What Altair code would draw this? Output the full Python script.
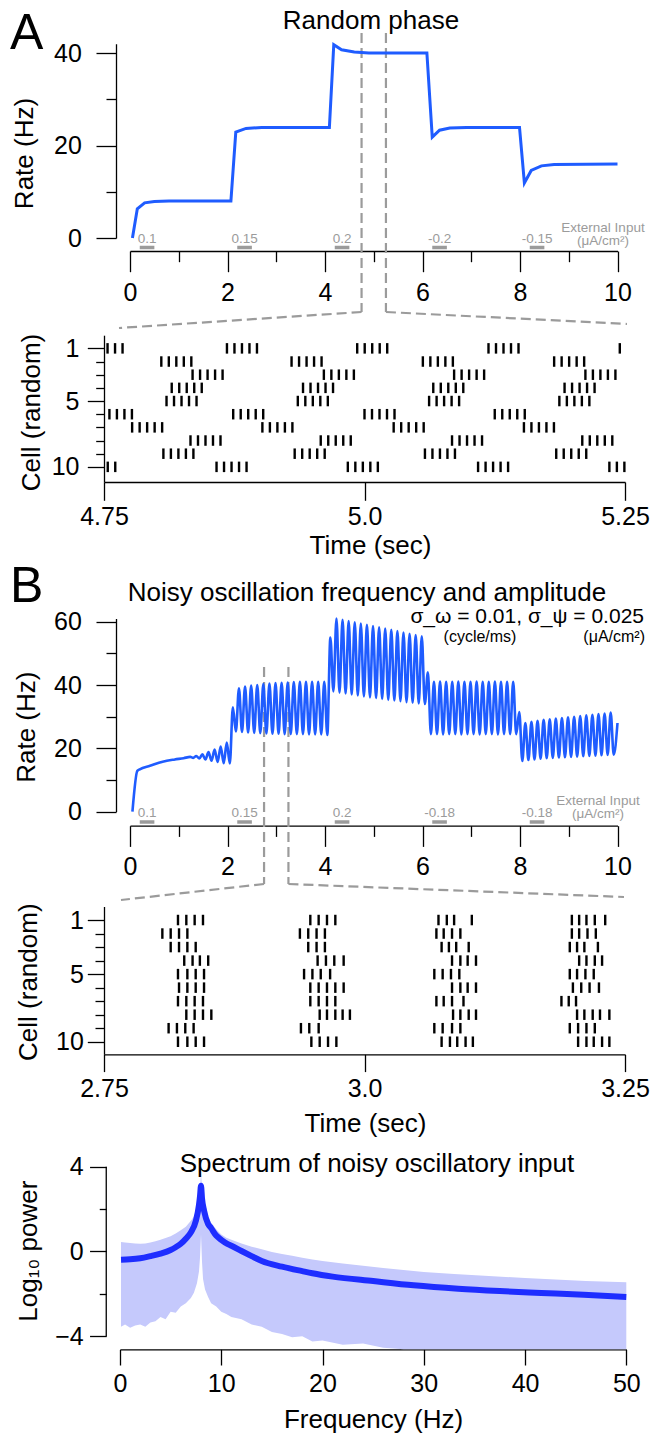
import altair as alt
import pandas as pd

W, H = 652, 1435
FONT = "Liberation Sans"
RATE_BLUE = "#1f5cff"
SPEC_BLUE = "#1e2dff"
BAND = "#c5c9fc"
GRAY = "#9b9b9b"
DASH = [10, 5]

# ---------------- data: panel A (random phase) ----------------
RATE_A_T = [0.05, 0.15, 0.3, 0.5, 0.8, 2.07, 2.17, 2.38, 2.7, 4.09, 4.18, 4.34, 4.6, 4.9,
            6.09, 6.2, 6.35, 6.56, 6.9, 7.99, 8.09, 8.23, 8.44, 8.7, 10.0]
RATE_A_R = [0, 6.3, 7.6, 7.9, 8.0, 8.0, 22.9, 23.7, 23.9, 23.9, 41.8, 40.7, 40.2, 40.0,
            40.0, 21.8, 23.3, 23.8, 23.9, 23.9, 11.9, 14.6, 15.6, 15.9, 16.0]

INPUT_START = [0.2, 2.2, 4.2, 6.2, 8.2]
INPUT_END = [0.5, 2.5, 4.5, 6.5, 8.5]
INPUT_A_LABELS = ["0.1", "0.15", "0.2", "-0.2", "-0.15"]
INPUT_B_LABELS = ["0.1", "0.15", "0.2", "-0.18", "-0.18"]

RATE_X_MAJOR = [0, 2, 4, 6, 8, 10]
RATE_X_LABELS = ["0", "2", "4", "6", "8", "10"]
RATE_X_MINOR = [1, 3, 5, 7, 9]
RATE_A_Y_MAJOR = [0, 20, 40]
RATE_A_Y_LABELS = ["0", "20", "40"]
RATE_A_Y_MINOR = [10, 30]
ZOOM_A = [4.75, 5.25]

# raster A: burst onsets (s) per cell, and spike offsets inside a burst
RASTER_A_ONSETS = [
    [4.739, 4.868, 4.993, 5.119, 5.245],
    [4.805, 4.930, 5.056, 5.182],
    [4.835, 4.961, 5.086, 5.212],
    [4.815, 4.941, 5.066, 5.192],
    [4.810, 4.936, 5.062, 5.187],
    [4.748, 4.874, 5.000, 5.125],
    [4.777, 4.902, 5.028, 5.153],
    [4.833, 4.958, 5.084, 5.209],
    [4.807, 4.933, 5.058, 5.184],
    [4.732, 4.858, 4.984, 5.109, 5.235],
]
RASTER_A_BURST_OFFSETS = [0.0, 0.0072, 0.0144, 0.0216, 0.0288]
RASTER_A_X = [4.75, 5.0, 5.25]
RASTER_A_XLABELS = ["4.75", "5.0", "5.25"]

CELL_MAJOR = [1, 5, 10]
CELL_LABELS = ["1", "5", "10"]
CELL_MINOR = [2, 3, 4, 6, 7, 8, 9]

# ---------------- data: panel B (noisy oscillation) ----------------
RATE_B_RISE_T = [0.05, 0.15, 0.2, 0.41, 0.67, 0.92, 1.1]
RATE_B_RISE_R = [0, 12.9, 13.4, 14.5, 15.8, 16.5, 16.9]
OSC_FIRST_PEAK_T = 1.235   # first oscillation peak
OSC_PERIOD = 0.125         # 8 Hz cycle
RATE_B_PEAKS = [
    17.3, 17.6, 18.1, 18.8, 19.6, 20.6, 21.8,
    33.0, 39.0, 39.5, 39.8, 40.0, 40.3, 40.5, 40.6, 40.7, 40.8, 40.9, 41.0, 41.0, 41.0, 41.0, 41.0,
    55.0, 61.0, 60.6, 60.2, 59.8, 59.4, 59.0, 58.6, 58.2, 57.8, 57.4, 57.0, 56.6, 56.2, 55.8, 55.4,
    44.0, 41.0, 41.1, 41.0, 41.0, 41.1, 41.0, 41.0, 41.1, 41.0, 41.0, 41.1, 41.0, 41.0, 41.0, 31.5,
    28.0, 28.4, 28.7, 29.0, 29.2, 29.4, 29.6, 29.8, 30.0, 30.2, 30.4, 30.6, 30.8, 31.0, 31.3,
]
RATE_B_TROUGHS = [
    17.0, 16.8, 16.5, 16.1, 15.7, 15.3, 15.2,
    25.3, 25.2, 25.0, 24.9, 24.8, 24.7, 24.6, 24.6, 24.5, 24.5, 24.5, 24.5, 24.4, 24.4, 24.4, 24.2,
    38.0, 37.6, 37.3, 37.0, 36.7, 36.4, 36.1, 35.9, 35.6, 35.3, 35.1, 34.9, 34.6, 34.4, 34.2, 34.0,
    24.5, 24.5, 24.4, 24.5, 24.5, 24.4, 24.5, 24.5, 24.4, 24.5, 24.5, 24.4, 24.5, 24.5, 24.5, 16.0,
    16.3, 16.5, 16.7, 16.9, 17.0, 17.1, 17.2, 17.3, 17.4, 17.5, 17.6, 17.7, 17.8, 17.9, 18.0,
]
RATE_B_END_T = 10.0
RATE_B_END_R = 28.0

RATE_B_Y_MAJOR = [0, 20, 40, 60]
RATE_B_Y_LABELS = ["0", "20", "40", "60"]
RATE_B_Y_MINOR = [10, 30, 50]
ZOOM_B = [2.75, 3.25]

RASTER_B_SPIKES = [
    [2.821, 2.829, 2.837, 2.845, 2.948, 2.956, 2.964, 2.972, 3.071, 3.079, 3.086, 3.103, 3.199, 3.206, 3.213, 3.221, 3.231],
    [2.806, 2.814, 2.822, 2.830, 2.938, 2.946, 2.954, 2.962, 3.069, 3.076, 3.084, 3.092, 3.199, 3.206, 3.214, 3.222],
    [2.814, 2.822, 2.830, 2.838, 2.946, 2.954, 2.962, 3.074, 3.081, 3.088, 3.100, 3.197, 3.204, 3.211, 3.224],
    [2.827, 2.835, 2.842, 2.850, 2.955, 2.963, 2.971, 2.980, 3.084, 3.092, 3.099, 3.107, 3.206, 3.213, 3.221, 3.228],
    [2.821, 2.830, 2.838, 2.846, 2.942, 2.950, 2.958, 2.967, 3.067, 3.075, 3.083, 3.091, 3.197, 3.204, 3.212, 3.220],
    [2.822, 2.830, 2.838, 2.846, 2.948, 2.956, 2.964, 2.972, 2.980, 3.084, 3.092, 3.099, 3.107, 3.200, 3.208, 3.216, 3.225],
    [2.821, 2.829, 2.837, 2.845, 2.948, 2.956, 2.964, 2.972, 3.069, 3.076, 3.084, 3.095, 3.189, 3.196, 3.203],
    [2.829, 2.837, 2.845, 2.853, 2.957, 2.964, 2.972, 2.979, 2.986, 3.085, 3.092, 3.100, 3.107, 3.204, 3.211, 3.219, 3.226, 3.235],
    [2.812, 2.820, 2.828, 2.836, 2.939, 2.947, 2.956, 3.067, 3.075, 3.084, 3.092, 3.197, 3.205, 3.213, 3.221],
    [2.821, 2.830, 2.838, 2.846, 2.949, 2.957, 2.965, 2.973, 3.074, 3.082, 3.089, 3.097, 3.104, 3.205, 3.213, 3.220, 3.228, 3.235],
]
RASTER_B_X = [2.75, 3.0, 3.25]
RASTER_B_XLABELS = ["2.75", "3.0", "3.25"]

# ---------------- data: spectrum ----------------
SPEC_F = [0.1, 1, 2, 3, 4, 5, 5.5, 6, 6.5, 7, 7.5, 7.8, 7.9, 8.0, 8.1, 8.3, 8.7, 9.0, 9.5, 10,
          10.6, 11, 12, 13, 14, 16, 18, 19, 21, 25, 29, 33.4, 37.5, 41.6, 45.8, 50]
SPEC_MEAN = [-0.39, -0.37, -0.32, -0.22, -0.1, 0.07, 0.2, 0.36, 0.6, 0.9, 1.46, 2.2, 2.6, 3.1,
             2.5, 1.93, 1.3, 1.1, 0.75, 0.55, 0.36, 0.27, 0.02, -0.22, -0.45, -0.72, -0.93, -1.03,
             -1.19, -1.4, -1.6, -1.76, -1.87, -1.96, -2.05, -2.15]
BAND_F = [0.1, 0.5, 1, 1.5, 2, 2.5, 3, 3.5, 4, 4.5, 5, 5.5, 6, 6.5, 7, 7.3, 7.6, 7.8, 7.9, 8.0,
          8.1, 8.2, 8.4, 8.7, 9, 9.5, 10, 10.5, 11, 12, 13, 14, 15, 16, 17, 18, 19, 20, 22, 24,
          26, 28, 30, 33, 36, 40, 43, 46, 50]
BAND_HI = [0.44, 0.42, 0.40, 0.38, 0.36, 0.37, 0.42, 0.48, 0.55, 0.63, 0.72, 0.85, 1.0, 1.17,
           1.45, 1.65, 2.0, 2.4, 2.9, 3.7, 3.0, 2.6, 2.1, 1.6, 1.35, 1.05, 0.8, 0.65, 0.55, 0.38,
           0.22, 0.1, -0.03, -0.12, -0.2, -0.3, -0.38, -0.45, -0.57, -0.68, -0.78, -0.88, -0.97,
           -1.06, -1.15, -1.25, -1.32, -1.39, -1.45]
BAND_LO = [-3.55, -3.45, -3.6, -3.5, -3.45, -3.55, -3.35, -3.3, -3.1, -3.2, -2.85, -2.9, -2.6,
           -2.45, -2.2, -1.95, -1.5, -0.95, -0.3, 0.8, -0.5, -1.3, -1.8, -2.15, -2.45, -2.6,
           -2.85, -2.95, -3.1, -3.2, -3.45, -3.55, -3.8, -3.9, -4.05, -4.0, -4.25, -4.2, -4.4,
           -4.35, -4.55, -4.62, -4.62, -4.62, -4.62, -4.62, -4.62, -4.62, -4.62]
SPEC_X = [0, 10, 20, 30, 40, 50]
SPEC_XLABELS = ["0", "10", "20", "30", "40", "50"]
SPEC_Y_MAJOR = [-4, 0, 4]
SPEC_Y_LABELS = ["\u22124", "0", "4"]
SPEC_Y_MINOR = [-2, 2]


# ---------------- helpers ----------------
def label_expr(values, labels):
    expr = "''"
    for v, l in reversed(list(zip(values, labels))):
        expr = f"datum.value == {v} ? '{l}' : {expr}"
    return expr


def common_axis(**kw):
    base = dict(grid=False, domainColor="black", domainWidth=1.3, tickColor="black",
                tickWidth=1.3, labelFont=FONT, labelFontSize=25, labelColor="black",
                labelFlush=False, labelOverlap=False)
    base.update(kw)
    return alt.Axis(**base)


def major_x(axis_y, values, labels, tick, pad, title=None, title_x=0, title_y=0):
    kw = dict(orient="bottom", offset=axis_y - H, values=values, tickSize=tick,
              labelPadding=pad, labelExpr=label_expr(values, labels))
    if title:
        kw.update(title=title, titleFont=FONT, titleFontSize=26, titleFontWeight="normal",
                  titleColor="black", titleX=title_x, titleY=title_y - axis_y,
                  titleAlign="center", titleBaseline="alphabetic", titleAngle=0)
    else:
        kw["title"] = None
    return common_axis(**kw)


def minor_x(axis_y, values, tick):
    return common_axis(orient="bottom", offset=axis_y - H, values=values, tickSize=tick,
                       labels=False, domain=False, title=None)


def major_y(axis_x, values, labels, tick, pad, title, title_right, title_cy, domain=True):
    return common_axis(orient="left", offset=-axis_x, values=values, tickSize=tick,
                       labelPadding=pad, labelExpr=label_expr(values, labels), domain=domain,
                       title=title, titleFont=FONT, titleFontSize=26, titleFontWeight="normal",
                       titleColor="black", titleX=title_right - axis_x, titleY=title_cy,
                       titleAngle=270, titleAlign="center", titleBaseline="bottom")


def minor_y(axis_x, values, tick):
    return common_axis(orient="left", offset=-axis_x, values=values, tickSize=tick,
                       labels=False, domain=False, title=None)


def text_layer(txt, x, y, size, align="center", baseline="alphabetic", color="black"):
    return alt.Chart(pd.DataFrame({"k": [0]})).mark_text(
        text=txt, font=FONT, fontSize=size, align=align, baseline=baseline, color=color
    ).encode(x=alt.value(x), y=alt.value(y))


def rate_panel(df, sx, sy, ax_y, ax_x, y_major, y_labels, y_minor, y_title_r, y_title_cy,
               in_labels, label_y, bar_y, ext_cx, ext_y1, ext_y2, zoom, z_top, z_bot,
               left_end, right_end, stroke, interp):
    line = alt.Chart(df).mark_line(color=RATE_BLUE, strokeWidth=stroke, interpolate=interp).encode(
        x=alt.X("t:Q", scale=sx, axis=major_x(ax_y, RATE_X_MAJOR, RATE_X_LABELS, 20.7, 8.5)),
        y=alt.Y("r:Q", scale=sy, axis=major_y(ax_x, y_major, y_labels, 20, 14.6,
                                               "Rate (Hz)", y_title_r, y_title_cy)),
        order="i:Q",
    )
    mx = alt.Chart(pd.DataFrame({"v": RATE_X_MINOR})).mark_point(opacity=0).encode(
        x=alt.X("v:Q", scale=sx, axis=minor_x(ax_y, RATE_X_MINOR, 10.7)), y=alt.value(0))
    my = alt.Chart(pd.DataFrame({"v": y_minor})).mark_point(opacity=0).encode(
        y=alt.Y("v:Q", scale=sy, axis=minor_y(ax_x, y_minor, 10)), x=alt.value(0))
    inp = pd.DataFrame({"start": INPUT_START, "end": INPUT_END, "label": in_labels})
    inp["mid"] = (inp["start"] + inp["end"]) / 2
    bars = alt.Chart(inp).mark_rule(color=GRAY, strokeWidth=3.5).encode(
        x=alt.X("start:Q", scale=sx, axis=None), x2="end:Q", y=alt.value(bar_y))
    labs = alt.Chart(inp).mark_text(font=FONT, fontSize=13.5, color=GRAY, baseline="middle").encode(
        x=alt.X("mid:Q", scale=sx, axis=None), y=alt.value(label_y), text="label:N")
    ext1 = text_layer("External Input", ext_cx, ext_y1, 13.5, baseline="middle", color=GRAY)
    ext2 = text_layer("(\u03bcA/cm\u00b2)", ext_cx, ext_y2, 13.5, baseline="middle", color=GRAY)
    zdf = pd.DataFrame({"t": zoom})
    vlines = alt.Chart(zdf).mark_rule(color=GRAY, strokeWidth=2.2, strokeDash=DASH).encode(
        x=alt.X("t:Q", scale=sx, axis=None), y=alt.value(z_top), y2=alt.value(z_bot))
    c_left = alt.Chart(pd.DataFrame({"t": [zoom[0]]})).mark_rule(
        color=GRAY, strokeWidth=2.2, strokeDash=DASH).encode(
        x=alt.X("t:Q", scale=sx, axis=None), y=alt.value(z_bot),
        x2=alt.value(left_end[0]), y2=alt.value(left_end[1]))
    c_right = alt.Chart(pd.DataFrame({"t": [zoom[1]]})).mark_rule(
        color=GRAY, strokeWidth=2.2, strokeDash=DASH).encode(
        x=alt.X("t:Q", scale=sx, axis=None), y=alt.value(z_bot),
        x2=alt.value(right_end[0]), y2=alt.value(right_end[1]))
    return alt.layer(vlines, c_left, c_right, bars, labs, ext1, ext2, mx, my, line).resolve_scale(
        x="shared", y="shared").resolve_axis(x="independent", y="independent")


def raster_panel(df, sx, sy, ax_y, ax_x, x_vals, x_labels, x_pad, x_tick, y_pad, y_minor_tick,
                 t_title_cx, t_title_base, c_title_r, c_title_cy):
    spikes = alt.Chart(df).mark_tick(orient="vertical", thickness=2.4, size=10.5, color="black",
                                     opacity=1).encode(
        x=alt.X("t:Q", scale=sx, axis=major_x(ax_y, x_vals, x_labels, x_tick, x_pad,
                                               "Time (sec)", t_title_cx, t_title_base)),
        y=alt.Y("cell:Q", scale=sy, axis=major_y(ax_x, CELL_MAJOR, CELL_LABELS, 16.7, y_pad,
                                                  "Cell (random)", c_title_r, c_title_cy)),
    )
    my = alt.Chart(pd.DataFrame({"v": CELL_MINOR})).mark_point(opacity=0).encode(
        y=alt.Y("v:Q", scale=sy, axis=minor_y(ax_x, CELL_MINOR, y_minor_tick)), x=alt.value(0))
    return alt.layer(my, spikes).resolve_scale(x="shared", y="shared").resolve_axis(
        x="independent", y="independent")


# ---------------- build data frames ----------------
rate_a = pd.DataFrame({"t": RATE_A_T, "r": RATE_A_R})
rate_a["i"] = range(len(rate_a))

tb, rb = list(RATE_B_RISE_T), list(RATE_B_RISE_R)
for k, (p, q) in enumerate(zip(RATE_B_PEAKS, RATE_B_TROUGHS)):
    tp = OSC_FIRST_PEAK_T + k * OSC_PERIOD
    tb += [tp, tp + OSC_PERIOD / 2]
    rb += [p, q]
tb.append(RATE_B_END_T)
rb.append(RATE_B_END_R)
rate_b = pd.DataFrame({"t": tb, "r": rb})
rate_b["i"] = range(len(rate_b))

rows = []
for cell, onsets in enumerate(RASTER_A_ONSETS, start=1):
    for o in onsets:
        for d in RASTER_A_BURST_OFFSETS:
            t = o + d
            if ZOOM_A[0] <= t <= ZOOM_A[1]:
                rows.append({"t": t, "cell": cell})
raster_a = pd.DataFrame(rows)

rows = []
for cell, spikes in enumerate(RASTER_B_SPIKES, start=1):
    for t in spikes:
        rows.append({"t": t, "cell": cell})
raster_b = pd.DataFrame(rows)

# ---------------- scales ----------------
sxA = alt.Scale(domain=[0, 10], range=[130, 617.5], nice=False, zero=False)
syA = alt.Scale(domain=[0, 42], range=[238, 43.75], nice=False, zero=False)
sxRA = alt.Scale(domain=[4.75, 5.25], range=[104, 625], nice=False, zero=False)
syRA = alt.Scale(domain=[0, 11.15], range=[335.2, 482.0], nice=False, zero=False)
sxB = alt.Scale(domain=[0, 10], range=[130, 617.5], nice=False, zero=False)
syB = alt.Scale(domain=[0, 61], range=[811.7, 618.5], nice=False, zero=False)
sxRB = alt.Scale(domain=[2.75, 3.25], range=[104, 625], nice=False, zero=False)
syRB = alt.Scale(domain=[0, 10.93], range=[906.5, 1054.3], nice=False, zero=False)
sxS = alt.Scale(domain=[0, 50], range=[120, 626.3], nice=False, zero=False)
syS = alt.Scale(domain=[-4.62, 4], range=[1349.3, 1166.7], nice=False, zero=False, clamp=True)

# ---------------- panels ----------------
panelA = rate_panel(rate_a, sxA, syA, 251, 116, RATE_A_Y_MAJOR, RATE_A_Y_LABELS, RATE_A_Y_MINOR,
                    37.5, 153, INPUT_A_LABELS, 238.5, 247.5, 603, 228, 241,
                    ZOOM_A, 33, 312, (119, 328), (627, 324), 3, "linear")
rasterA = raster_panel(raster_a, sxRA, syRA, 482, 104, RASTER_A_X, RASTER_A_XLABELS, 3.8, 18.3,
                       8.3, 8.3, 370, 553, 44, 412)
panelB = rate_panel(rate_b, sxB, syB, 825.7, 116, RATE_B_Y_MAJOR, RATE_B_Y_LABELS, RATE_B_Y_MINOR,
                    39.6, 726.7, INPUT_B_LABELS, 812.5, 822, 598, 801, 814,
                    ZOOM_B, 667, 884, (121, 900), (624, 897), 2.6, "monotone")
rasterB = raster_panel(raster_b, sxRB, syRB, 1054.3, 104, RASTER_B_X, RASTER_B_XLABELS, 4.8, 17.3,
                       4, 9, 365, 1131.5, 41.7, 981.7)

band_df = pd.DataFrame({"f": BAND_F, "lo": BAND_LO, "hi": BAND_HI})
mean_df = pd.DataFrame({"f": SPEC_F, "m": SPEC_MEAN})
band = alt.Chart(band_df).mark_area(color=BAND, opacity=1).encode(
    x=alt.X("f:Q", scale=sxS, axis=major_x(1349.3, SPEC_X, SPEC_XLABELS, 15.7, 6.4,
                                            "Frequency (Hz)", 373, 1427.5)),
    y=alt.Y("lo:Q", scale=syS, axis=major_y(106.25, SPEC_Y_MAJOR, SPEC_Y_LABELS, 16.7, 6.3,
                                             "Log\u2081\u2080 power", 41.7, 1250.7, domain=False)),
    y2="hi:Q",
)
mean_line = alt.Chart(mean_df).mark_line(color=SPEC_BLUE, strokeWidth=6, interpolate="monotone").encode(
    x=alt.X("f:Q", scale=sxS, axis=None), y=alt.Y("m:Q", scale=syS, axis=None))
spec_minor = alt.Chart(pd.DataFrame({"v": SPEC_Y_MINOR})).mark_point(opacity=0).encode(
    y=alt.Y("v:Q", scale=syS, axis=minor_y(106.25, SPEC_Y_MINOR, 7)), x=alt.value(0))
spec_yline = alt.Chart(pd.DataFrame({"lo": [SPEC_Y_MAJOR[0]], "hi": [SPEC_Y_MAJOR[-1]]})).mark_rule(
    color="black", strokeWidth=1.3).encode(
    y=alt.Y("lo:Q", scale=syS, axis=None), y2="hi:Q", x=alt.value(106.25))
spectrum = alt.layer(band, mean_line, spec_minor, spec_yline).resolve_scale(
    x="shared", y="shared").resolve_axis(x="independent", y="independent")

# ---------------- free text ----------------
texts = alt.layer(
    text_layer("A", 10, 48.5, 50, align="left"),
    text_layer("Random phase", 371, 28.5, 26),
    text_layer("B", 10, 601.5, 50, align="left"),
    text_layer("Noisy oscillation frequency and amplitude", 367, 600.7, 26),
    text_layer("\u03c3_\u03c9 = 0.01, \u03c3_\u03c8 = 0.025", 644, 623, 21, align="right"),
    text_layer("(cycle/ms)", 480, 636.5, 16, baseline="middle"),
    text_layer("(\u03bcA/cm\u00b2)", 645, 636.5, 16, align="right", baseline="middle"),
    text_layer("Spectrum of noisy oscillatory input", 377, 1171.7, 26),
)

chart = alt.layer(panelA, rasterA, panelB, rasterB, spectrum, texts).resolve_scale(
    x="independent", y="independent").resolve_axis(x="independent", y="independent").properties(
    width=W, height=H, autosize=alt.AutoSizeParams(type="none"), padding=0,
    background="white").configure_view(stroke=None)

chart.save("out.html", embed_options={"renderer": "svg", "actions": False})
